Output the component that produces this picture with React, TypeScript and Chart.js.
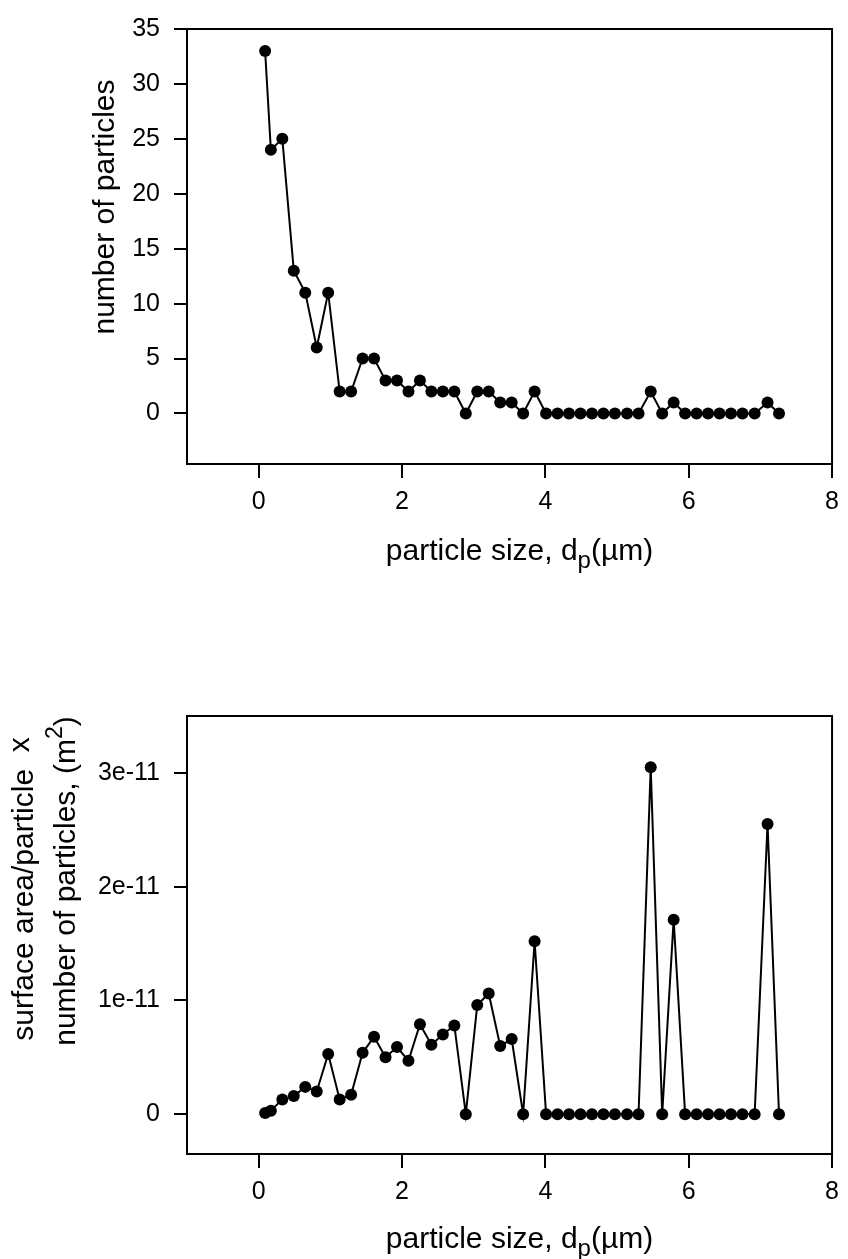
import React, { useEffect, useRef } from "react";
import { Chart, registerables } from "chart.js";

Chart.register(...registerables);

// ---------- data ----------
const PARTICLE_SIZE = [
  0.09, 0.17, 0.33, 0.49, 0.65, 0.81, 0.97, 1.13, 1.29, 1.45, 1.61, 1.77, 1.93,
  2.09, 2.25, 2.41, 2.57, 2.73, 2.89, 3.05, 3.21, 3.37, 3.53, 3.69, 3.85, 4.01,
  4.17, 4.33, 4.49, 4.65, 4.81, 4.97, 5.14, 5.3, 5.47, 5.63, 5.79, 5.95, 6.11,
  6.27, 6.43, 6.59, 6.75, 6.92, 7.1, 7.26,
];

const PARTICLE_COUNT = [
  33, 24, 25, 13, 11, 6, 11, 2, 2, 5, 5, 3, 3, 2, 3, 2, 2, 2, 0, 2, 2, 1, 1, 0,
  2, 0, 0, 0, 0, 0, 0, 0, 0, 0, 2, 0, 1, 0, 0, 0, 0, 0, 0, 0, 1, 0,
];

const SURFACE_AREA = [
  0.01e-11, 0.03e-11, 0.13e-11, 0.16e-11, 0.24e-11, 0.2e-11, 0.53e-11,
  0.13e-11, 0.17e-11, 0.54e-11, 0.68e-11, 0.5e-11, 0.59e-11, 0.47e-11,
  0.79e-11, 0.61e-11, 0.7e-11, 0.78e-11, 0, 0.96e-11, 1.06e-11, 0.6e-11,
  0.66e-11, 0, 1.52e-11, 0, 0, 0, 0, 0, 0, 0, 0, 0, 3.05e-11, 0, 1.71e-11, 0,
  0, 0, 0, 0, 0, 0, 2.55e-11, 0,
];

const X_TICKS = [0, 2, 4, 6, 8];
const COUNT_TICKS = [0, 5, 10, 15, 20, 25, 30, 35];
const AREA_TICKS = [0, 1e-11, 2e-11, 3e-11];
const AREA_TICK_LABELS = ["0", "1e-11", "2e-11", "3e-11"];

const FONT = '"Liberation Sans", Arial, Helvetica, sans-serif';
const TICK_SIZE = 25;
const TITLE_SIZE = 30;

type Seg = { t: string; k?: number; up?: number };
type YLine = { segs: Seg[]; x: number; cy: number };
type TitleSpec = { xTitle: Seg[]; xTitleOffset: number; xTitleShift: number; yLines: YLine[] };

function drawRich(ctx: CanvasRenderingContext2D, segs: Seg[], size: number, cx: number, baseline: number) {
  const widths = segs.map((s) => {
    ctx.font = `${Math.round(size * (s.k || 1))}px ${FONT}`;
    return ctx.measureText(s.t).width;
  });
  const total = widths.reduce((a, b) => a + b, 0);
  let x = cx - total / 2;
  segs.forEach((s, i) => {
    ctx.font = `${Math.round(size * (s.k || 1))}px ${FONT}`;
    ctx.fillText(s.t, x, baseline - (s.up || 0) * size);
    x += widths[i];
  });
}

function makeTextPlugin(spec: TitleSpec) {
  return {
    id: "richTitles",
    afterDraw(chart: any) {
      const ctx: CanvasRenderingContext2D = chart.ctx;
      const a = chart.chartArea;
      ctx.save();
      ctx.strokeStyle = "#000";
      ctx.lineWidth = 2;
      ctx.strokeRect(a.left, a.top, a.right - a.left, a.bottom - a.top);
      ctx.fillStyle = "#000";
      ctx.textAlign = "left";
      ctx.textBaseline = "alphabetic";
      drawRich(
        ctx,
        spec.xTitle,
        TITLE_SIZE,
        (a.left + a.right) / 2 + spec.xTitleShift,
        a.bottom + spec.xTitleOffset
      );
      spec.yLines.forEach((ln) => {
        ctx.save();
        ctx.translate(ln.x, ln.cy);
        ctx.rotate(-Math.PI / 2);
        drawRich(ctx, ln.segs, TITLE_SIZE, 0, 0);
        ctx.restore();
      });
      ctx.restore();
    },
  };
}

const X_TITLE: Seg[] = [
  { t: "particle size, d" },
  { t: "p", k: 0.8, up: -0.28 },
  { t: "(\u00b5m)" },
];

function buildConfig(kind: "count" | "area"): any {
  const isCount = kind === "count";
  const values = isCount ? PARTICLE_COUNT : SURFACE_AREA;
  const yTicks = isCount ? COUNT_TICKS : AREA_TICKS;
  const spec: TitleSpec = isCount
    ? {
        xTitle: X_TITLE,
        xTitleOffset: 96,
        xTitleShift: 10,
        yLines: [{ segs: [{ t: "number of particles" }], x: 114, cy: 207 }],
      }
    : {
        xTitle: X_TITLE,
        xTitleOffset: 94,
        xTitleShift: 10,
        yLines: [
          { segs: [{ t: "surface area/particle  " }, { t: "x", up: 0.15 }], x: 33, cy: 289 },
          {
            segs: [{ t: "number of particles, (m" }, { t: "2", k: 0.75, up: 0.45 }, { t: ")" }],
            x: 75,
            cy: 281,
          },
        ],
      };
  return {
    type: "line",
    data: {
      datasets: [
        {
          data: PARTICLE_SIZE.map((x, i) => ({ x, y: values[i] })),
          borderColor: "#000",
          borderWidth: 2,
          pointRadius: 6,
          pointBackgroundColor: "#000",
          pointBorderWidth: 0,
          pointHoverRadius: 6,
          tension: 0,
          fill: false,
        },
      ],
    },
    plugins: [makeTextPlugin(spec)],
    options: {
      animation: false,
      responsive: false,
      devicePixelRatio: 1,
      layout: { padding: { top: isCount ? 25 : 116, right: 8, left: 0, bottom: 0 } },
      plugins: {
        legend: { display: false },
        tooltip: { enabled: false },
      },
      scales: {
        x: {
          type: "linear",
          min: -1,
          max: 8,
          afterBuildTicks: (s: any) => {
            s.ticks = X_TICKS.map((v) => ({ value: v }));
          },
          afterFit: (s: any) => {
            s.height = isCount ? 136 : 105;
          },
          ticks: {
            font: { family: FONT, size: TICK_SIZE },
            color: "#000",
            padding: 9,
            maxRotation: 0,
            autoSkip: false,
            callback: (v: number) => String(v),
          },
          grid: { display: true, drawOnChartArea: false, drawTicks: true, tickLength: 14, color: "#000", lineWidth: 2 },
          border: { display: true, color: "#000", width: 2 },
        },
        y: {
          type: "linear",
          min: isCount ? -4.6 : -0.35e-11,
          max: isCount ? 35 : 3.5e-11,
          afterBuildTicks: (s: any) => {
            s.ticks = yTicks.map((v) => ({ value: v }));
          },
          afterFit: (s: any) => {
            s.width = 187;
          },
          ticks: {
            font: { family: FONT, size: TICK_SIZE },
            color: "#000",
            padding: 14,
            autoSkip: false,
            callback: (v: number) =>
              isCount ? String(v) : AREA_TICK_LABELS[AREA_TICKS.indexOf(v)] ?? String(v),
          },
          grid: { display: true, drawOnChartArea: false, drawTicks: true, tickLength: 13, color: "#000", lineWidth: 2 },
          border: { display: true, color: "#000", width: 2 },
        },
      },
    },
  };
}

function ChartCanvas({ kind, top, height }: { kind: "count" | "area"; top: number; height: number }) {
  const ref = useRef<HTMLCanvasElement | null>(null);
  useEffect(() => {
    if (!ref.current) return;
    const chart = new Chart(ref.current, buildConfig(kind));
    return () => chart.destroy();
  }, [kind]);
  return (
    <canvas
      ref={ref}
      width={848}
      height={height}
      style={{ position: "absolute", left: 0, top, width: 848, height }}
    />
  );
}

export default function App() {
  return (
    <div style={{ position: "absolute", left: 0, top: 0, width: 848, height: 1259, background: "#fff" }}>
      <ChartCanvas kind="count" top={0} height={600} />
      <ChartCanvas kind="area" top={600} height={659} />
    </div>
  );
}
